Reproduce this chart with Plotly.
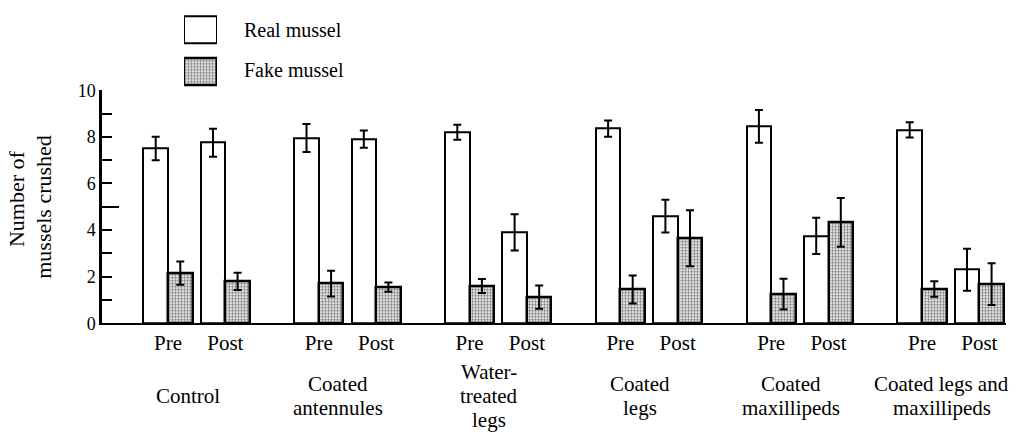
import plotly.graph_objects as go

# ---------------- data ----------------
groups = ["Control", "Coated<br>antennules", "Water-<br>treated<br>legs",
          "Coated<br>legs", "Coated<br>maxillipeds", "Coated legs and<br>maxillipeds"]
conditions = ["Pre", "Post"]

real_pre = [7.5, 7.95, 8.2, 8.35, 8.45, 8.3]
real_pre_err = [0.5, 0.6, 0.32, 0.35, 0.7, 0.33]
fake_pre = [2.15, 1.7, 1.6, 1.45, 1.25, 1.47]
fake_pre_err = [0.5, 0.55, 0.3, 0.6, 0.66, 0.33]
real_post = [7.75, 7.9, 3.9, 4.6, 3.75, 2.3]
real_post_err = [0.6, 0.37, 0.78, 0.7, 0.78, 0.9]
fake_post = [1.8, 1.55, 1.12, 3.65, 4.33, 1.68]
fake_post_err = [0.37, 0.2, 0.5, 1.2, 1.05, 0.9]

y_ticks = [0, 2, 4, 6, 8, 10]
series_names = ["Real mussel", "Fake mussel"]
y_title_lines = ["Number of", "mussels crushed"]

# ---------------- layout helpers ----------------
W, H = 1027, 446
POST_OFFSET = 0.38   # distance between Pre and Post pair centres (group units)
BW = 0.163           # bar width (group units)
FONT = "Liberation Serif, Times New Roman, serif"


def px_x(p):
    return p / W


def px_y(p):
    return 1 - p / H


centers = [g + c * POST_OFFSET for g in range(len(groups)) for c in range(len(conditions))]
tick_text = [conditions[c] for g in range(len(groups)) for c in range(len(conditions))]
real_vals = [v for pair in zip(real_pre, real_post) for v in pair]
real_errs = [v for pair in zip(real_pre_err, real_post_err) for v in pair]
fake_vals = [v for pair in zip(fake_pre, fake_post) for v in pair]
fake_errs = [v for pair in zip(fake_pre_err, fake_post_err) for v in pair]

pattern = dict(shape=".", fgcolor="black", bgcolor="white", size=3, solidity=0.5)

fig = go.Figure()
fig.add_trace(go.Bar(
    x=[c - BW / 2 for c in centers], y=real_vals, width=BW, name=series_names[0],
    marker=dict(color="white", line=dict(color="black", width=2)),
    error_y=dict(type="data", array=real_errs, color="black", thickness=2, width=4),
    cliponaxis=False, showlegend=False,
))
fig.add_trace(go.Bar(
    x=[c + BW / 2 for c in centers], y=fake_vals, width=BW, name=series_names[1],
    marker=dict(color="white", pattern=pattern, line=dict(color="black", width=2.5)),
    error_y=dict(type="data", array=fake_errs, color="black", thickness=2, width=4),
    cliponaxis=False, showlegend=False,
))

# legend drawn as a tiny bar subplot so the swatches match the large boxes
fig.add_trace(go.Bar(
    x=[1], y=[1], orientation="h", width=0.65, xaxis="x2", yaxis="y2",
    marker=dict(color="white", line=dict(color="black", width=2)),
    cliponaxis=False, showlegend=False, hoverinfo="skip",
))
fig.add_trace(go.Bar(
    x=[1], y=[0], orientation="h", width=0.65, xaxis="x2", yaxis="y2",
    marker=dict(color="white", pattern=pattern, line=dict(color="black", width=2.5)),
    cliponaxis=False, showlegend=False, hoverinfo="skip",
))
# helper trace for the long-tick overlay axis
fig.add_trace(go.Scatter(x=[None], y=[None], yaxis="y3", showlegend=False, hoverinfo="skip"))

x_left = (102 - 168) / 150.8
x_right = (1006 - 168) / 150.8

annotations = []
for g, lab in enumerate(groups):
    lines = lab.split("<br>")
    n = len(lines)
    for i, line in enumerate(lines):
        annotations.append(dict(
            x=g + POST_OFFSET / 2, y=px_y(404 + (i - (n - 1) / 2) * 25), xref="x", yref="paper",
            text=line, showarrow=False, xanchor="center", yanchor="middle", xshift=-9,
            font=dict(family=FONT, size=21, color="black"),
        ))
annotations.append(dict(x=px_x(16), y=px_y(198), xref="paper", yref="paper", text=y_title_lines[0],
                        textangle=-90, showarrow=False, xanchor="center", yanchor="middle",
                        font=dict(family=FONT, size=22, color="black")))
annotations.append(dict(x=px_x(44), y=px_y(206), xref="paper", yref="paper", text=y_title_lines[1],
                        textangle=-90, showarrow=False, xanchor="center", yanchor="middle",
                        font=dict(family=FONT, size=22, color="black")))
annotations.append(dict(x=px_x(242), y=px_y(21), xref="paper", yref="paper", text=series_names[0],
                        showarrow=False, xanchor="left", yanchor="middle",
                        font=dict(family=FONT, size=20, color="black")))
annotations.append(dict(x=px_x(242), y=px_y(63), xref="paper", yref="paper", text=series_names[1],
                        showarrow=False, xanchor="left", yanchor="middle",
                        font=dict(family=FONT, size=20, color="black")))

fig.update_layout(
    width=W, height=H, margin=dict(l=0, r=0, t=0, b=0),
    paper_bgcolor="white", plot_bgcolor="rgba(0,0,0,0)",
    barmode="overlay", bargap=0,
    font=dict(family=FONT, color="black"),
    xaxis=dict(domain=[px_x(102), px_x(1006)], range=[x_left, x_right],
               tickvals=centers, ticktext=tick_text, ticks="", showgrid=False, zeroline=False,
               showline=True, linecolor="black", linewidth=2,
               tickfont=dict(family=FONT, size=21, color="black")),
    yaxis=dict(domain=[px_y(328), px_y(84)], range=[0, 10], tickvals=y_ticks,
               ticks="inside", ticklen=10, tickwidth=2, tickcolor="black",
               minor=dict(dtick=1, ticks="inside", ticklen=10, tickwidth=2, tickcolor="black", showgrid=False),
               showgrid=False, zeroline=False, showline=True, linecolor="black", linewidth=2.5,
               tickfont=dict(family=FONT, size=18, color="black")),
    yaxis3=dict(overlaying="y", anchor="x", side="left", range=[0, 10], tickvals=[5, 10],
                ticks="inside", ticklen=17, tickwidth=2, tickcolor="black",
                showticklabels=False, showgrid=False, zeroline=False, showline=False),
    xaxis2=dict(domain=[px_x(184), px_x(217)], range=[0, 1], anchor="y2", visible=False),
    yaxis2=dict(domain=[px_y(84.1), px_y(1.4)], range=[-0.45, 1.45], anchor="x2", visible=False),
    annotations=annotations,
)

fig.write_html("out.html")
